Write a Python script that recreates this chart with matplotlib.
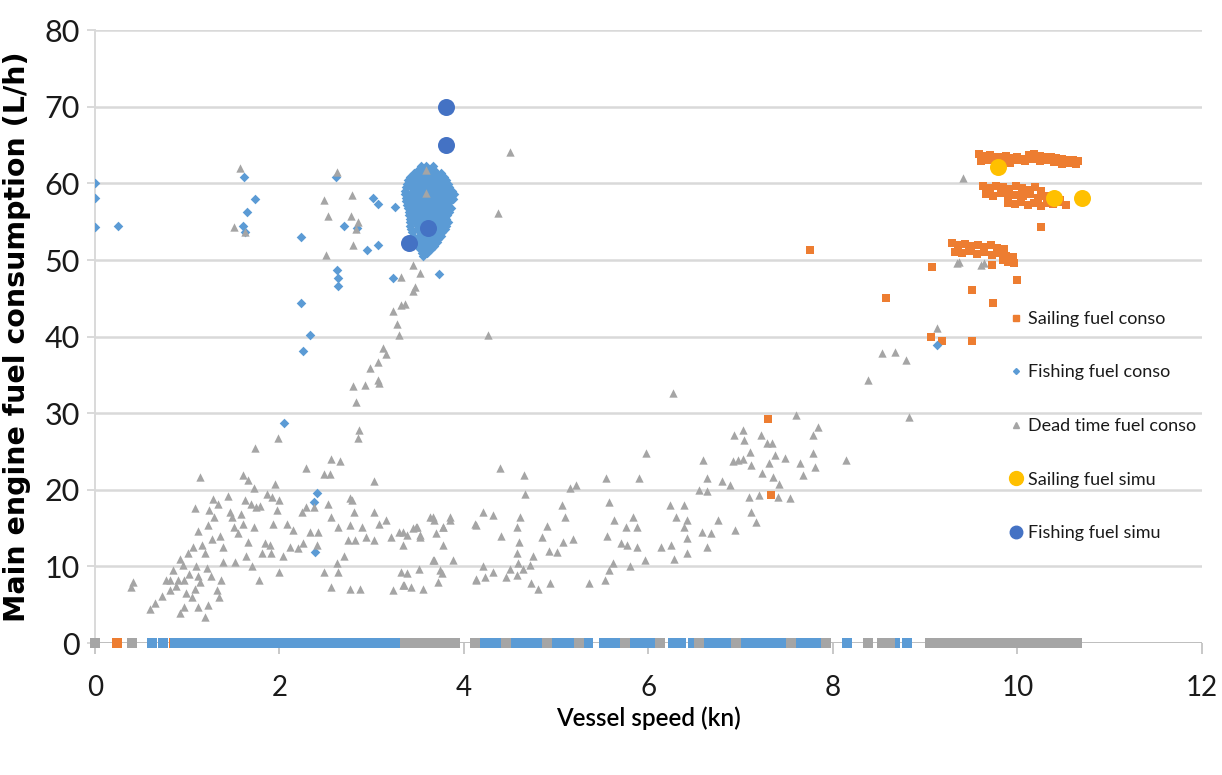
import numpy as np
import matplotlib
matplotlib.use("Agg")
import matplotlib.pyplot as plt
from matplotlib.lines import Line2D

# ------------------------------
# Series colours (Office palette)
# ------------------------------
c_sail = "#ED7D31"
c_fish = "#5B9BD5"
c_dead = "#A5A5A5"
c_sail_sim = "#FFC000"
c_fish_sim = "#4472C4"

# ------------------------------
# Sailing fuel conso (speed kn, fuel L/h)
# ------------------------------
sail_top_a_speed = [9.58, 9.64, 9.70, 9.76, 9.82, 9.88, 9.94, 10.00, 10.06, 10.12,
                    10.18, 10.24, 10.30, 10.36, 10.42, 10.48, 10.54, 10.60, 10.66]
sail_top_a_fuel = [63.8, 63.6, 63.7, 63.5, 63.4, 63.6, 63.3, 63.5, 63.2, 63.7,
                   63.9, 63.6, 63.4, 63.5, 63.3, 63.2, 63.0, 63.1, 62.9]
sail_top_b_speed = [9.60, 9.68, 9.76, 9.84, 9.92, 10.00, 10.08, 10.16, 10.24, 10.32,
                    10.40, 10.48, 10.56, 10.64]
sail_top_b_fuel = [62.9, 63.0, 62.8, 63.1, 62.7, 63.0, 62.9, 63.2, 62.9, 63.0,
                   62.8, 62.6, 62.7, 62.5]
sail_mid_a_speed = [9.63, 9.70, 9.77, 9.84, 9.91, 9.98, 10.05, 10.12, 10.19, 10.26]
sail_mid_a_fuel = [59.6, 59.4, 59.7, 59.5, 59.3, 59.6, 59.4, 59.2, 59.5, 59.0]
sail_mid_b_speed = [9.66, 9.74, 9.82, 9.90, 9.98, 10.06, 10.14, 10.22, 10.30, 10.38, 10.46]
sail_mid_b_fuel = [58.6, 58.4, 58.8, 58.2, 58.5, 58.3, 58.6, 58.1, 58.4, 58.0, 57.9]
sail_mid_c_speed = [9.90, 9.97, 10.04, 10.11, 10.18, 10.25, 10.32, 10.39, 10.46, 10.53]
sail_mid_c_fuel = [57.5, 57.3, 57.6, 57.2, 57.4, 57.1, 57.5, 57.3, 57.6, 57.2]
sail_low_a_speed = [9.29, 9.36, 9.43, 9.50, 9.57, 9.64, 9.71, 9.78, 9.85]
sail_low_a_fuel = [52.2, 51.9, 52.1, 51.8, 52.0, 51.7, 51.9, 51.6, 51.5]
sail_low_b_speed = [9.32, 9.40, 9.48, 9.56, 9.64, 9.72, 9.80, 9.88, 9.95]
sail_low_b_fuel = [51.1, 50.9, 51.2, 50.8, 51.0, 50.7, 50.9, 50.5, 50.4]
sail_low_c_speed = [9.84, 9.90, 9.96]
sail_low_c_fuel = [50.0, 49.8, 49.6]
sail_other_speed = [10.26, 9.07, 10.00, 9.51, 8.58, 9.73, 9.06, 9.18, 9.51, 9.72,
                    9.93, 7.75, 7.30, 7.33]
sail_other_fuel = [54.3, 49.1, 47.4, 46.1, 45.0, 44.4, 40.0, 39.4, 39.4, 49.3,
                   49.7, 51.3, 29.2, 19.3]
sail_zero_speed = [0.24, 0.86, 1.92, 4.62, 5.90, 7.05, 7.40]

# ------------------------------
# Fishing fuel conso
# ------------------------------
fish_speed = [0.00, 0.00, 0.00, 0.25, 1.62, 1.74, 1.65, 1.60, 1.63, 2.23, 2.23, 2.33,
              2.25, 2.61, 2.62, 2.64, 2.64, 2.70, 2.84, 3.01, 3.07, 2.95, 3.07, 3.25,
              3.23, 3.73, 3.88, 2.05, 2.41, 2.37, 2.38, 9.13]
fish_fuel = [60.0, 58.1, 54.3, 54.4, 60.8, 58.0, 56.3, 54.4, 53.7, 53.0, 44.4, 40.2,
             38.1, 60.8, 48.7, 47.6, 46.6, 54.4, 54.2, 58.1, 57.3, 51.3, 52.0, 56.9,
             47.6, 48.2, 58.0, 28.7, 19.6, 18.4, 11.9, 38.9]
# dense cluster around 3.6 kn, one row per fuel level
fish_cluster_rows = [
    (62.3, [3.53, 3.59, 3.66]),
    (61.8, [3.50, 3.56, 3.62, 3.68]),
    (61.3, [3.46, 3.52, 3.58, 3.64, 3.70, 3.75]),
    (60.8, [3.42, 3.49, 3.55, 3.61, 3.67, 3.73, 3.78]),
    (60.4, [3.39, 3.45, 3.51, 3.57, 3.63, 3.69, 3.75, 3.81]),
    (59.9, [3.38, 3.46, 3.54, 3.60, 3.66, 3.72, 3.78, 3.83]),
    (59.5, [3.37, 3.43, 3.49, 3.55, 3.61, 3.67, 3.73, 3.79, 3.84]),
    (59.0, [3.36, 3.45, 3.52, 3.58, 3.64, 3.70, 3.76, 3.82, 3.87]),
    (58.6, [3.36, 3.42, 3.48, 3.54, 3.60, 3.66, 3.72, 3.78, 3.84, 3.89]),
    (58.1, [3.37, 3.45, 3.51, 3.57, 3.63, 3.69, 3.76, 3.82, 3.87]),
    (57.7, [3.37, 3.43, 3.49, 3.55, 3.61, 3.67, 3.73, 3.79, 3.85]),
    (57.2, [3.38, 3.46, 3.52, 3.58, 3.64, 3.70, 3.76, 3.83]),
    (56.8, [3.39, 3.45, 3.51, 3.57, 3.63, 3.69, 3.75, 3.81, 3.86]),
    (56.3, [3.40, 3.48, 3.54, 3.60, 3.66, 3.72, 3.79, 3.84]),
    (55.9, [3.40, 3.46, 3.52, 3.58, 3.64, 3.70, 3.76, 3.82]),
    (55.4, [3.41, 3.49, 3.55, 3.61, 3.67, 3.73, 3.80]),
    (55.0, [3.41, 3.47, 3.53, 3.59, 3.65, 3.71, 3.77, 3.83]),
    (54.5, [3.42, 3.50, 3.56, 3.62, 3.68, 3.74, 3.80]),
    (54.1, [3.43, 3.49, 3.55, 3.61, 3.67, 3.73, 3.79]),
    (53.6, [3.44, 3.52, 3.58, 3.64, 3.70, 3.76]),
    (53.2, [3.45, 3.51, 3.57, 3.63, 3.69, 3.75]),
    (52.7, [3.47, 3.54, 3.60, 3.66, 3.72]),
    (52.3, [3.48, 3.54, 3.60, 3.66, 3.71]),
    (51.8, [3.50, 3.57, 3.63, 3.68]),
    (51.4, [3.52, 3.58, 3.64]),
    (50.9, [3.54, 3.60]),
    (50.5, [3.56]),
]
fish_zero_speed = [0.62, 0.74, 0.87, 0.93, 0.99, 1.05, 1.11, 1.17, 1.23, 1.29, 1.35, 1.41,
                   1.47, 1.53, 1.59, 1.65, 1.71, 1.77, 1.83, 1.89, 1.95, 2.01, 2.07, 2.13,
                   2.19, 2.25, 2.31, 2.37, 2.43, 2.49, 2.55, 2.61, 2.67, 2.73, 2.79, 2.85,
                   2.91, 2.97, 3.03, 3.09, 3.15, 3.21, 3.27, 3.33,
                   4.14, 4.20, 4.26, 4.32, 4.38, 4.44, 4.50, 4.56, 4.62, 4.68, 4.74, 4.80,
                   4.86, 4.92, 4.96, 5.04, 5.10, 5.16, 5.22, 5.34, 5.52, 5.58, 5.64, 5.70,
                   5.76, 5.82, 5.88, 5.94, 6.00, 6.06, 6.11, 6.27, 6.35, 6.48, 6.53, 6.66,
                   6.72, 6.78, 6.84, 6.90, 6.96, 7.02, 7.08, 7.14, 7.20, 7.26, 7.32, 7.38,
                   7.44, 7.50, 7.56, 7.62, 7.68, 7.74, 7.80, 7.86, 7.91, 8.15, 8.57, 8.67,
                   8.80]

# ------------------------------
# Dead time fuel conso
# ------------------------------
dead_speed = [
    2.80, 2.93, 3.08, 2.83, 2.86, 2.85, 1.98, 1.73, 1.14, 1.60, 1.66, 1.72, 1.95, 1.92,
    1.44, 1.28, 1.24, 1.23, 1.29, 1.49, 1.51, 1.61, 1.55, 1.72, 1.69, 1.75, 1.79, 2.00,
    1.97, 1.93, 2.08, 2.11, 2.24, 2.29, 2.37, 2.29, 2.48, 2.55, 2.56, 2.66, 2.53, 2.56,
    2.64, 2.76, 2.79, 2.81, 2.77, 2.74, 2.82, 2.90, 2.94, 3.02, 3.02, 3.02, 3.08, 3.16,
    3.21, 3.30, 3.38, 3.45, 3.49, 3.52, 3.63, 3.68, 3.77, 3.85, 4.12, 4.13, 3.88, 3.68,
    3.76, 3.72, 3.56, 3.43, 3.34, 3.32, 3.23, 2.87, 2.76, 2.62, 2.64, 2.56, 2.48, 2.70,
    2.41, 2.42, 2.33, 2.26, 2.20, 2.15, 2.04, 2.00, 1.90, 1.91, 1.81, 1.78, 1.70, 1.64,
    1.66, 1.39, 1.39, 1.52, 1.37, 1.32, 1.35, 1.26, 1.19, 1.12, 1.14, 1.08, 1.05, 0.99,
    0.92, 1.01, 0.96, 0.90, 0.81, 0.77, 0.81, 0.73, 0.65, 0.60, 0.92, 0.96, 1.19, 1.23,
    1.12, 0.41, 0.39,
    0.85, 0.95, 1.02, 1.06, 1.10, 1.16, 1.21, 0.88, 1.27, 1.12, 1.08, 1.33, 1.36, 1.46,
    1.58, 1.63, 1.84, 1.86,
    1.57, 1.51, 1.63, 2.62, 2.48, 2.53, 2.79, 2.78, 2.85, 2.83, 2.80, 2.50, 3.45, 3.52,
    3.32, 3.47, 3.45, 3.36, 3.32, 3.23, 3.27, 3.30, 3.12, 3.16, 3.07, 2.98, 3.07, 3.59,
    3.59, 4.50, 4.37, 4.26,
    6.27, 7.60, 7.84, 7.78, 7.78, 7.80, 7.68, 7.64, 7.48, 7.37, 7.34, 7.29, 7.22, 7.02,
    7.04, 6.93, 7.10, 7.11, 6.92, 6.97, 7.02, 7.31, 7.23, 7.35, 7.42, 7.40, 7.53, 7.20,
    7.09, 7.11, 7.17, 6.94, 6.88, 6.80, 6.63, 6.63, 6.55, 6.59, 6.75, 6.68, 6.58, 6.64,
    6.42, 6.42, 6.38, 6.42, 6.38, 6.30, 6.23, 6.24, 6.28, 6.14, 5.97, 5.90, 5.96, 5.88,
    5.88, 5.83, 5.76, 5.77, 5.70, 5.63, 5.55, 5.57, 5.54, 5.62, 5.57, 5.53, 5.80, 5.36,
    5.22, 5.15, 5.18, 5.10, 5.07, 5.06, 5.01, 4.92, 4.90, 4.93, 4.85, 4.75, 4.72, 4.73,
    4.80, 4.66, 4.65, 4.61, 4.57, 4.60, 4.57, 4.59, 4.58, 4.64, 4.50, 4.46, 4.39, 4.40,
    4.32, 4.32, 4.23, 4.21, 4.21, 4.13, 4.13, 3.85, 3.77, 3.77, 3.70, 3.66, 3.74, 3.52,
    3.51, 3.38, 3.35, 3.66, 3.48, 3.34, 3.34, 8.14,
    9.41, 9.34, 9.37, 9.61, 9.64, 9.13, 8.53, 8.67, 8.79, 8.38, 8.82,
]
dead_fuel = [
    33.5, 33.7, 34.0, 31.5, 27.8, 26.8, 26.8, 25.4, 21.7, 21.9, 21.3, 20.2, 20.8, 19.1,
    19.2, 18.8, 17.4, 15.4, 16.4, 16.5, 15.2, 15.6, 14.3, 15.2, 18.2, 17.8, 17.9, 18.7,
    17.4, 15.6, 15.6, 12.6, 17.1, 17.8, 17.8, 22.8, 22.1, 22.1, 24.0, 23.8, 18.2, 16.5,
    15.2, 18.9, 18.7, 17.1, 15.4, 13.4, 13.4, 15.2, 13.9, 17.1, 21.1, 13.4, 15.6, 16.1,
    13.9, 14.5, 14.1, 15.0, 15.2, 13.9, 16.5, 16.1, 15.2, 16.1, 15.6, 8.2, 10.8, 10.8,
    9.1, 8.0, 7.1, 7.3, 7.6, 9.3, 6.9, 7.1, 7.1, 10.4, 9.3, 7.3, 9.3, 11.3,
    12.8, 14.5, 14.5, 13.0, 12.4, 14.7, 11.3, 9.3, 12.8, 11.7, 11.7, 8.2, 10.0, 11.3,
    13.2, 12.6, 10.6, 10.6, 8.2, 6.9, 6.0, 8.7, 11.7, 8.7, 8.0, 7.1, 6.0, 6.5,
    11.0, 11.7, 8.2, 8.2, 8.2, 8.2, 6.9, 6.1, 5.2, 4.5, 3.9, 4.7, 3.4, 5.0,
    4.7, 8.0, 7.3,
    9.5, 10.2, 9.0, 12.5, 10.0, 12.8, 9.8, 7.4, 13.6, 14.6, 17.6, 18.2, 14.0, 17.1,
    16.9, 18.7, 13.1, 19.4,
    62.0, 54.3, 53.6, 61.5, 57.8, 55.7, 58.5, 55.7, 55.0, 54.1, 52.0, 50.7, 49.3, 48.3,
    47.8, 46.5, 45.9, 44.3, 44.1, 43.3, 41.7, 40.2, 38.5, 37.7, 36.7, 35.9, 34.3, 61.8,
    58.7, 64.1, 56.1, 40.2,
    32.6, 29.8, 28.2, 27.2, 24.8, 23.0, 21.9, 23.5, 24.2, 24.5, 26.1, 26.1, 27.2, 27.8,
    26.5, 27.2, 25.0, 23.2, 23.7, 23.9, 24.0, 23.5, 22.2, 21.7, 20.8, 19.0, 18.9, 19.3,
    19.1, 17.1, 15.8, 14.7, 20.6, 21.1, 21.5, 19.8, 20.0, 23.9, 16.1, 14.3, 14.5, 12.6,
    11.7, 13.7, 15.2, 16.1, 18.0, 16.5, 18.0, 12.8, 11.0, 12.6, 24.8, 21.6, 10.8, 12.6,
    15.2, 16.4, 15.2, 12.8, 13.0, 16.1, 14.0, 18.4, 21.5, 10.5, 9.5, 8.2, 10.0, 7.8,
    20.6, 20.2, 13.6, 16.5, 13.2, 18.0, 11.9, 12.0, 15.3, 7.9, 13.9, 11.3, 10.2, 7.8,
    7.0, 19.5, 21.9, 16.5, 15.2, 13.2, 11.7, 10.4, 8.9, 9.7, 9.7, 8.6, 22.9, 14.0,
    16.7, 9.3, 8.6, 10.0, 17.1, 15.4, 8.3, 16.4, 15.2, 12.8, 14.3, 10.8, 9.5, 14.1,
    9.6, 9.1, 7.6, 16.5, 15.2, 14.5, 12.8, 23.9,
    60.7, 49.6, 49.8, 49.3, 49.6, 41.1, 37.8, 38.0, 36.9, 34.3, 29.5,
]
dead_zero_speed = [0.00, 0.40,
                   3.36, 3.42, 3.48, 3.54, 3.60, 3.66, 3.72, 3.78, 3.84, 3.90,
                   4.12, 4.46, 4.90, 5.25, 5.75, 6.12, 6.55, 6.95, 7.55, 7.92,
                   8.38, 8.53, 8.62,
                   9.05, 9.12, 9.19, 9.30, 9.36, 9.42, 9.48, 9.54, 9.60, 9.66, 9.72,
                   9.78, 9.84, 9.90, 9.96, 10.02, 10.08, 10.14, 10.20, 10.26, 10.32,
                   10.38, 10.44, 10.50, 10.56, 10.62, 10.65]

# ------------------------------
# Simulated fuel
# ------------------------------
sail_sim_speed = [9.79, 10.40, 10.70]
sail_sim_fuel = [62.1, 58.1, 58.1]
fish_sim_speed = [3.81, 3.81, 3.61, 3.40]
fish_sim_fuel = [70.0, 65.0, 54.2, 52.2]

# ------------------------------
# Assemble series
# ------------------------------
sail_speed = (sail_top_a_speed + sail_top_b_speed + sail_mid_a_speed + sail_mid_b_speed
              + sail_mid_c_speed + sail_low_a_speed + sail_low_b_speed + sail_low_c_speed
              + sail_other_speed)
sail_fuel = (sail_top_a_fuel + sail_top_b_fuel + sail_mid_a_fuel + sail_mid_b_fuel
             + sail_mid_c_fuel + sail_low_a_fuel + sail_low_b_fuel + sail_low_c_fuel
             + sail_other_fuel)

fish_all_speed = list(fish_speed)
fish_all_fuel = list(fish_fuel)
for fuel, speeds in fish_cluster_rows:
    fish_all_speed += speeds
    fish_all_fuel += [fuel] * len(speeds)

# ------------------------------
# Figure
# ------------------------------
fig = plt.figure(figsize=(12.22, 7.75), dpi=100)
ax = fig.add_axes([0.0777, 0.1703, 0.9059, 0.7907])

grid_col = "#D9D9D9"
ax.set_xlim(0, 12)
ax.set_ylim(0, 80)
ax.set_yticks(np.arange(0, 81, 10))
ax.set_xticks(np.arange(0, 13, 2))
ax.yaxis.grid(True, color=grid_col, linewidth=1.8, zorder=0)
ax.set_axisbelow(True)
ax.axhline(0, color="#BFBFBF", linewidth=1.4, zorder=1)

for side in ["top", "right", "bottom"]:
    ax.spines[side].set_visible(False)
ax.spines["left"].set_color(grid_col)
ax.spines["left"].set_linewidth(1.4)

tick_font = ["Lato", "DejaVu Sans"]
ax.tick_params(axis="y", length=6, width=1.4, color=grid_col, labelsize=22, pad=5)
ax.tick_params(axis="x", length=8, width=1.2, color="#BFBFBF", labelsize=20, pad=15)
for lab in ax.get_xticklabels() + ax.get_yticklabels():
    lab.set_family(tick_font)
    lab.set_color("#1a1a1a")

# points with a measured consumption
ax.scatter(sail_speed, sail_fuel, marker="s", s=34, color=c_sail, linewidths=0, zorder=3)
ax.scatter(fish_all_speed, fish_all_fuel, marker="D", s=24, color=c_fish, linewidths=0, zorder=4)
ax.scatter(dead_speed, dead_fuel, marker="^", s=36, color=c_dead, linewidths=0, zorder=5)

# records logged at zero consumption sit on the axis line
zero_kw = dict(linewidths=0, clip_on=False)
ax.scatter(sail_zero_speed, [0.0] * len(sail_zero_speed), marker="s", s=44,
           color=c_sail, zorder=3, **zero_kw)
ax.scatter(fish_zero_speed, [0.0] * len(fish_zero_speed), marker="s", s=44,
           color=c_fish, zorder=4, **zero_kw)
ax.scatter(dead_zero_speed, [0.0] * len(dead_zero_speed), marker="s", s=44,
           color=c_dead, zorder=5, **zero_kw)

ax.scatter(sail_sim_speed, sail_sim_fuel, marker="o", s=150, color=c_sail_sim, linewidths=0, zorder=6)
ax.scatter(fish_sim_speed, fish_sim_fuel, marker="o", s=150, color=c_fish_sim, linewidths=0, zorder=7)

ax.set_ylabel("Main engine fuel consumption (L/h)", fontsize=20.5, fontweight="bold",
              family="DejaVu Sans")
ax.yaxis.set_label_coords(-0.0575, 0.5)
ax.set_xlabel("Vessel speed (kn)", fontsize=17.5, family="Lato", fontweight="semibold",
              labelpad=4)

# legend with proxy markers
handles = [
    Line2D([], [], linestyle="none", marker="s", markersize=5, color=c_sail),
    Line2D([], [], linestyle="none", marker="D", markersize=3, color=c_fish),
    Line2D([], [], linestyle="none", marker="^", markersize=4, color=c_dead),
    Line2D([], [], linestyle="none", marker="o", markersize=10, color=c_sail_sim),
    Line2D([], [], linestyle="none", marker="o", markersize=9, color=c_fish_sim),
]
labels = ["Sailing fuel conso", "Fishing fuel conso", "Dead time fuel conso",
          "Sailing fuel simu", "Fishing fuel simu"]
leg = ax.legend(handles, labels, loc="upper left", bbox_to_anchor=(0.8275, 0.542),
                frameon=False, handlelength=0.6, handletextpad=0.35, labelspacing=2.08,
                borderpad=0, borderaxespad=0, prop={"family": "Lato", "size": 13})
for t in leg.get_texts():
    t.set_color("#1a1a1a")

fig.savefig("out.png", dpi=100)
